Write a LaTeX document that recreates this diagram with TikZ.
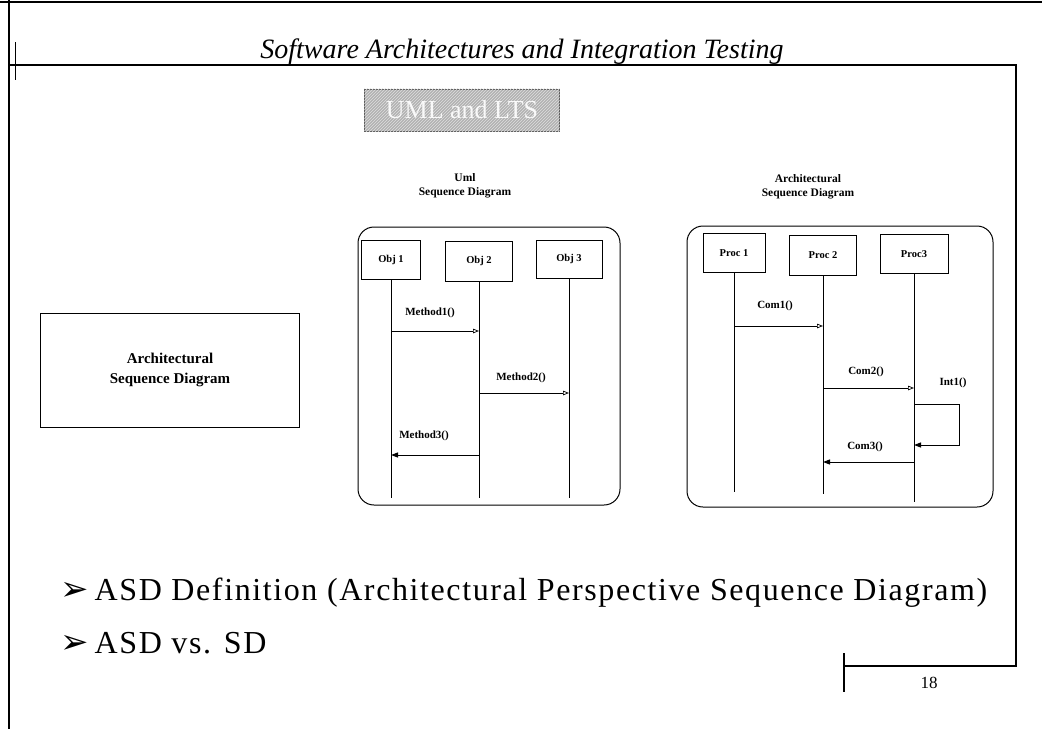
\documentclass[tikz,border=0pt]{standalone}
\usepackage{fontspec}
\setmainfont{Liberation Serif}
\newfontfamily\dejavu{DejaVu Sans}
\newfontfamily\spaced[LetterSpace=5]{Liberation Serif}
\usetikzlibrary{arrows.meta,patterns}
\begin{document}
\begin{tikzpicture}[x=1pt,y=-1pt,
  frame/.style={draw, line width=1pt, rounded corners=16pt},
  lifebox/.style={draw, line width=0.8pt, inner sep=0pt, font=\fontsize{10.5}{11}\selectfont\bfseries},
  life/.style={line width=0.7pt},
  call/.style={line width=0.7pt, -{Triangle[open,length=6pt,width=4.5pt]}},
  ret/.style={line width=1pt, -{Triangle[length=7pt,width=5pt]}},
  lbl/.style={inner sep=0pt, font=\fontsize{11}{12}\selectfont\bfseries},
  head/.style={inner sep=0pt, align=center, font=\fontsize{11.5}{14}\selectfont\bfseries},
  bullet/.style={inner sep=0pt, anchor=base west, font=\spaced\fontsize{32}{34}\selectfont},
  rule/.style={line width=1.4pt}
]
\useasboundingbox (0,0) rectangle (1042,729);
% page borders
\coordinate (tl) at (0,2); \coordinate (tr) at (1042,2);
\draw[line width=2.5pt] (tl) -- (tr);
\coordinate (lt) at (9,0); \coordinate (lb) at (9,729);
\draw[line width=1.6pt] (lt) -- (lb);
\coordinate (tk1) at (15,42); \coordinate (tk2) at (15,80);
\draw[line width=1pt] (tk1) -- (tk2);
% header
\node[inner sep=0pt, anchor=base, font=\fontsize{28}{30}\selectfont\itshape] (title) at (522,58) {Software Architectures and Integration Testing};
\coordinate (r1) at (9,65); \coordinate (r2) at (1016,65); \coordinate (r3) at (1016,666);
\coordinate (r4) at (844,666);
\draw[rule] (r1) -- (r2) -- (r3) -- (r4);
\coordinate (t1) at (844,653); \coordinate (t2) at (844,692);
\draw[line width=1.2pt] (t1) -- (t2);
\node[inner sep=0pt, font=\fontsize{17}{18}\selectfont] (pg) at (929,683) {18};
% title box
\node[draw=gray!70!black, fill=gray!60, minimum width=195pt, minimum height=42pt, inner sep=0pt] (uml) at (462,110) {};
\fill[pattern=north east lines, pattern color=gray!25] (uml.south west) rectangle (uml.north east);
\node[inner sep=0pt, text=gray!5, font=\fontsize{26}{28}\selectfont] (umlt) at (uml.center) {UML and LTS};
% left box
\node[draw, line width=0.8pt, minimum width=259pt, minimum height=114pt, align=center,
      font=\fontsize{15}{20}\selectfont\bfseries] (asd) at (170,370) {Architectural\\Sequence Diagram};
% UML sequence diagram
\node[head] (h1) at (465,186) {Uml\\Sequence Diagram};
\node[frame, minimum width=262pt, minimum height=278pt] (f1) at (489,366) {};
\node[lifebox, minimum width=59pt, minimum height=39pt] (o1) at (391,260) {Obj 1};
\node[lifebox, minimum width=67pt, minimum height=40pt] (o2) at (479,261) {Obj 2};
\node[lifebox, minimum width=66pt, minimum height=38pt] (o3) at (569,259) {Obj 3};
\coordinate (o1e) at (o1 |- 0,498);
\coordinate (o2e) at (o2 |- 0,498);
\coordinate (o3e) at (o3 |- 0,498);
\draw[life] (o1) -- (o1e);
\draw[life] (o2) -- (o2e);
\draw[life] (o3) -- (o3e);
\coordinate (m1a) at (o1 |- 0,331); \coordinate (m1b) at (o2 |- 0,331);
\coordinate (m2a) at (o2 |- 0,393); \coordinate (m2b) at (o3 |- 0,393);
\coordinate (m3a) at (o2 |- 0,455); \coordinate (m3b) at (o1 |- 0,455);
\draw[call] (m1a) -- (m1b);
\draw[call] (m2a) -- (m2b);
\draw[ret] (m3a) -- (m3b);
\node[lbl] (l1) at (430,313) {Method1()};
\node[lbl] (l2) at (521,378) {Method2()};
\node[lbl] (l3) at (424,436) {Method3()};
% Architectural sequence diagram
\node[head] (h2) at (808,187) {Architectural\\Sequence Diagram};
\node[frame, minimum width=306pt, minimum height=281pt] (f2) at (840,366.5) {};
\node[lifebox, minimum width=62pt, minimum height=39pt] (p1) at (734,253) {Proc 1};
\node[lifebox, minimum width=67pt, minimum height=40pt] (p2) at (823,255) {Proc 2};
\node[lifebox, minimum width=68pt, minimum height=39pt] (p3) at (914,254) {Proc3};
\coordinate (p1e) at (p1 |- 0,492);
\coordinate (p2e) at (p2 |- 0,494);
\coordinate (p3e) at (p3 |- 0,502);
\draw[life] (p1) -- (p1e);
\draw[life] (p2) -- (p2e);
\draw[life] (p3) -- (p3e);
\coordinate (c1a) at (p1 |- 0,326); \coordinate (c1b) at (p2 |- 0,326);
\coordinate (c2a) at (p2 |- 0,388); \coordinate (c2b) at (p3 |- 0,388);
\coordinate (s1) at (p3 |- 0,404); \coordinate (s2) at (959,404); \coordinate (s3) at (959,445);
\coordinate (s4) at (p3 |- 0,445);
\coordinate (c3a) at (p3 |- 0,462); \coordinate (c3b) at (p2 |- 0,462);
\draw[call] (c1a) -- (c1b);
\draw[call] (c2a) -- (c2b);
\draw[ret] (s1) -- (s2) -- (s3) -- (s4);
\draw[ret] (c3a) -- (c3b);
\node[lbl] (k1) at (775,306) {Com1()};
\node[lbl] (k2) at (866,372) {Com2()};
\node[lbl] (k4) at (953,383) {Int1()};
\node[lbl] (k3) at (865,447) {Com3()};
% bullets
\node[bullet] (b1) at (60,600) {{\dejavu\fontsize{34}{34}\selectfont ➢}\hspace{6pt}ASD Definition (Architectural Perspective Sequence Diagram)};
\node[bullet] (b2) at (60,653) {{\dejavu\fontsize{34}{34}\selectfont ➢}\hspace{6pt}ASD vs. SD};
\end{tikzpicture}
\end{document}
